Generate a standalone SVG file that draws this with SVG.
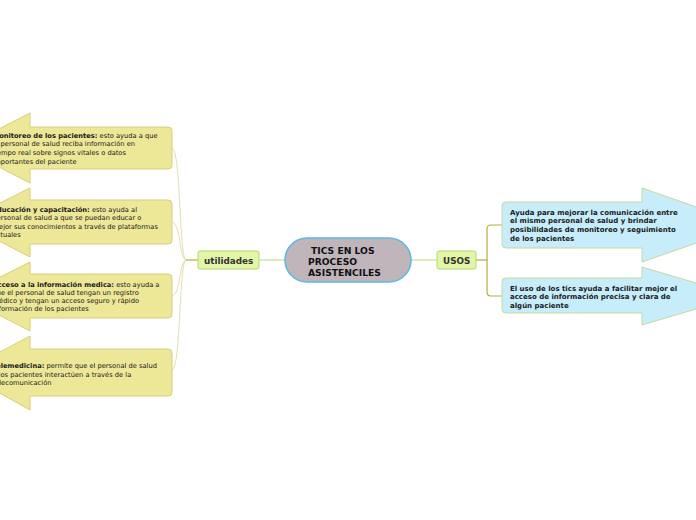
<svg xmlns="http://www.w3.org/2000/svg" width="696" height="520" viewBox="0 0 696 520">
<style>
.bg{fill:#ffffff}
.lnode{fill:#ede898;stroke:#d6cf7c;stroke-width:1;stroke-linejoin:round}
.rnode{fill:#c7ecfa;stroke:#c5d99c;stroke-width:1;stroke-linejoin:round}
.sub{fill:#e1f6a6;stroke:#b5d76c;stroke-width:1}
.t{font-family:"DejaVu Sans",Verdana,sans-serif;font-size:6.7px;fill:#1a1a1a}
.tr{font-family:"DejaVu Sans",Verdana,sans-serif;font-size:7px;font-weight:bold;fill:#1a1a1a}
.tb{font-weight:bold}
.lab{font-family:"DejaVu Sans",Verdana,sans-serif;font-size:8.8px;font-weight:bold;fill:#333333}
.ctr{font-family:"DejaVu Sans",Verdana,sans-serif;font-size:9.2px;font-weight:bold;fill:#111111}
.cl{fill:none;stroke:#dcd699;stroke-width:0.8}
.cg{fill:none;stroke:#b8d97a;stroke-width:1}
.co{fill:none;stroke:#b5ad3a;stroke-width:1.2}
</style>
<rect class="bg" x="0" y="0" width="696" height="520"/>
<g id="connectors">
<path class="cg" d="M259,260 L285,260"/>
<path class="cg" d="M411,260 L437,260"/>
<path class="co" d="M186,260 L198,260"/>
<path class="cl" d="M186,260 C179,258 181,150 172,148"/>
<path class="cl" d="M186,260 C179,258 181,224 172,222"/>
<path class="cl" d="M186,260 C179,262 181,294 172,296"/>
<path class="cl" d="M186,260 C179,262 181,368 172,370"/>
<path class="co" d="M476,260 L487,260"/>
<path class="co" d="M502,225 L491,225 Q487,225 487,229 L487,292 Q487,296 491,296 L502,296"/>
</g>
<g id="center">
<rect x="285" y="238" width="126" height="44" rx="22" ry="22" fill="#bfb5ba" stroke="#5bb9e2" stroke-width="1.5"/>
<text class="ctr" x="311" y="253.5">TICS EN LOS</text>
<text class="ctr" x="308" y="264.5">PROCESO</text>
<text class="ctr" x="308" y="275.5">ASISTENCILES</text>
</g>
<g id="utilidades">
<rect class="sub" x="198" y="251" width="61" height="18" rx="2"/>
<text class="lab" x="204" y="264">utilidades</text>
</g>
<g id="usos">
<rect class="sub" x="437" y="251" width="39" height="18" rx="2"/>
<text class="lab" x="443" y="264">USOS</text>
</g>
<g id="monitoreo">
<path class="lnode" d="M-38,148 L30,113 L30,127 L168,127 Q172,127 172,131 L172,165 Q172,169 168,169 L30,169 L30,183 Z"/>
<text class="t" x="-7.5" y="137.5"><tspan class="tb">Monitoreo de los pacientes:</tspan> esto ayuda a que</text>
<text class="t" x="-7.5" y="146">el personal de salud reciba información en</text>
<text class="t" x="-7.5" y="155">tiempo real sobre signos vitales o datos</text>
<text class="t" x="-7.5" y="163.5">importantes del paciente</text>
</g>
<g id="educacion">
<path class="lnode" d="M-38,222 L30,188 L30,200 L168,200 Q172,200 172,204 L172,240 Q172,244 168,244 L30,244 L30,257 Z"/>
<text class="t" x="-7.5" y="212"><tspan class="tb">Educación y capacitación:</tspan> esto ayuda al</text>
<text class="t" x="-7.5" y="220">personal de salud a que se puedan educar o</text>
<text class="t" x="-7.5" y="229">mejor sus conocimientos a través de plataformas</text>
<text class="t" x="-7.5" y="237">actuales</text>
</g>
<g id="acceso">
<path class="lnode" d="M-38,296 L30,262 L30,274 L168,274 Q172,274 172,278 L172,314 Q172,318 168,318 L30,318 L30,331 Z"/>
<text class="t" x="-7.5" y="286.5"><tspan class="tb">Acceso a la información medica:</tspan> esto ayuda a</text>
<text class="t" x="-7.5" y="295">que el personal de salud tengan un registro</text>
<text class="t" x="-7.5" y="303">médico y tengan un acceso seguro y rápido</text>
<text class="t" x="-7.5" y="311">información de los pacientes</text>
</g>
<g id="telemedicina">
<path class="lnode" d="M-38,372 L30,336 L30,349 L168,349 Q172,349 172,353 L172,392 Q172,396 168,396 L30,396 L30,410 Z"/>
<text class="t" x="-7.5" y="368"><tspan class="tb">Telemedicina:</tspan> permite que el personal de salud</text>
<text class="t" x="-7.5" y="376.5">y los pacientes interactúen a través de la</text>
<text class="t" x="-7.5" y="385">telecomunicación</text>
</g>
<g id="comunicacion">
<path class="rnode" d="M748,225 L642,188 L642,202 L506,202 Q502,202 502,206 L502,244 Q502,248 506,248 L642,248 L642,262 Z"/>
<text class="tr" x="510" y="214.5">Ayuda para mejorar la comunicación entre</text>
<text class="tr" x="510" y="223">el mismo personal de salud y brindar</text>
<text class="tr" x="510" y="232">posibilidades de monitoreo y seguimiento</text>
<text class="tr" x="510" y="240.5">de los pacientes</text>
</g>
<g id="acceso-info">
<path class="rnode" d="M740,296 L642,267 L642,278 L506,278 Q502,278 502,282 L502,309 Q502,313 506,313 L642,313 L642,325 Z"/>
<text class="tr" x="510" y="290.5">El uso de los tics ayuda a facilitar mejor el</text>
<text class="tr" x="510" y="299">acceso de información precisa y clara de</text>
<text class="tr" x="510" y="307.5">algún paciente</text>
</g>
</svg>
